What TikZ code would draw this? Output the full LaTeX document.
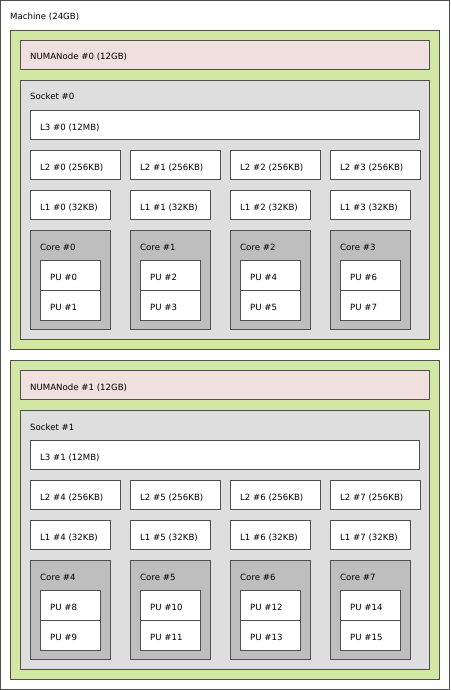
\documentclass[tikz,border=0pt]{standalone}
\usepackage{fontspec}
\setmainfont{DejaVu Sans}
\definecolor{machc}{HTML}{FFFFFF}
\definecolor{groupc}{HTML}{D2E7A4}
\definecolor{numac}{HTML}{EFDFDE}
\definecolor{sockc}{HTML}{DEDEDE}
\definecolor{corec}{HTML}{BEBEBE}
\definecolor{linec}{HTML}{505050}
\tikzset{
  hbox/.style={draw=linec, line width=1pt, anchor=north west, inner sep=0pt, outer sep=0pt},
  lbl/.style={anchor=base west, inner sep=0pt, font=\fontsize{8.6}{10}\selectfont, text=black}
}
% \hb{name}{x}{y}{w}{h}{fill}{label}
\newcommand{\hb}[7]{%
  \node[hbox, fill=#6, minimum width=#4pt, minimum height=#5pt] (#1) at (#2+0.5,#3+0.5) {};
  \node[lbl] (#1l) at (#2+10,#3+20) {#7};
}
\begin{document}
\begin{tikzpicture}[x=1pt,y=-1pt]
\useasboundingbox (0,0) rectangle (450,690);
\hb{mach}{0}{0}{449}{689}{machc}{Machine (24GB)}
\foreach \g in {0,1}{
  \pgfmathtruncatemacro{\oy}{330*\g}
  \hb{grp\g}{10}{30+\oy}{429}{319}{groupc}{}
  \hb{numa\g}{20}{40+\oy}{409}{29}{numac}{NUMANode \#\g{} (12GB)}
  \hb{sock\g}{20}{80+\oy}{409}{259}{sockc}{Socket \#\g}
  \hb{lthree\g}{30}{110+\oy}{389}{29}{white}{L3 \#\g{} (12MB)}
  \foreach \i in {0,1,2,3}{
    \pgfmathtruncatemacro{\ox}{100*\i}
    \pgfmathtruncatemacro{\n}{4*\g+\i}
    \pgfmathtruncatemacro{\pa}{2*\n}
    \pgfmathtruncatemacro{\pb}{2*\n+1}
    \hb{ltwo\n}{30+\ox}{150+\oy}{90}{29}{white}{L2 \#\n{} (256KB)}
    \hb{lone\n}{30+\ox}{190+\oy}{80}{29}{white}{L1 \#\n{} (32KB)}
    \hb{core\n}{30+\ox}{230+\oy}{80}{99}{corec}{Core \#\n}
    \hb{pu\pa}{40+\ox}{260+\oy}{60}{30}{white}{PU \#\pa}
    \hb{pu\pb}{40+\ox}{290+\oy}{60}{30}{white}{PU \#\pb}
  }
}
\end{tikzpicture}
\end{document}
